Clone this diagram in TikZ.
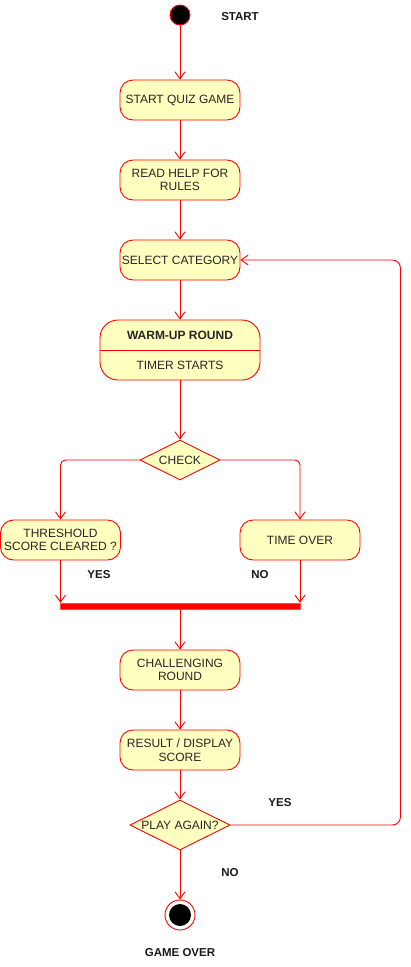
\documentclass[tikz,border=0pt]{standalone}
\usepackage{fontspec}
\setmainfont{Liberation Sans}
\usetikzlibrary{arrows.meta,shapes.geometric,calc}
\definecolor{actfill}{HTML}{FFFFC0}
\definecolor{actline}{HTML}{FF0000}
\begin{document}
\begin{tikzpicture}[x=1pt,y=-1pt,
  font=\fontsize{12}{13.5}\selectfont,
  act/.style={draw=actline,fill=actfill,rounded corners=13pt,line width=0.9pt,
    minimum width=120pt,minimum height=40pt,inner sep=1pt,align=center,text=black!85},
  dec/.style={draw=actline,fill=actfill,diamond,aspect=2,line width=0.9pt,inner sep=0pt,
    text=black!85},
  flow/.style={draw=actline,line width=0.9pt,-{Straight Barb[length=7pt,width=10pt,line width=0.9pt]}},
  lbl/.style={font=\fontsize{11.5}{13}\selectfont\bfseries,text=black!90}]
\useasboundingbox (0,0) rectangle (411,967);
% start
\node[circle,fill=black,draw=actline,line width=0.9pt,minimum size=20pt,inner sep=0pt] (start) at (180,15) {};
\node[lbl] (startlbl) at (240,17) {START};
% activities
\node[act] (quiz) at (180,100) {START QUIZ GAME};
\node[act] (help) at (180,180) {READ HELP FOR\\RULES};
\node[act] (sel) at (180,260) {SELECT CATEGORY};
\node[act,minimum width=160pt,minimum height=60pt,rounded corners=18pt] (warm) at (180,350) {};
\draw[actline,line width=0.9pt] (warm.west) -- (warm.east);
\node[font=\fontsize{12}{13.5}\selectfont\bfseries,text=black!85] (warmt) at (180,335) {WARM-UP ROUND};
\node[text=black!85] (warmb) at (180,365) {TIMER STARTS};
\node[dec,minimum width=80pt,minimum height=40pt] (check) at (180,460) {CHECK};
\node[act] (thresh) at (60.5,540) {THRESHOLD\\SCORE CLEARED ?};
\node[act] (timeo) at (300,540) {TIME OVER};
\node[lbl] (yes1) at (99,575) {YES};
\node[lbl] (no1) at (260,575) {NO};
\node[draw=actline!70,fill=actline,minimum width=240pt,minimum height=6pt,inner sep=0pt] (bar) at (180,606) {};
\node[act] (chal) at (180,670) {CHALLENGING\\ROUND};
\node[act] (res) at (180,750) {RESULT / DISPLAY\\SCORE};
\node[dec,minimum width=100pt,minimum height=50pt] (play) at (180,825) {PLAY AGAIN?};
\node[lbl] (yes2) at (280,803) {YES};
\node[lbl] (no2) at (230,873) {NO};
\node[circle,draw=actline,line width=0.9pt,fill=white,minimum size=30pt,inner sep=0pt] (stop) at (180,915) {};
\node[circle,fill=black,minimum size=22pt,inner sep=0pt] (stopin) at (180,915) {};
\node[lbl] (overlbl) at (180,953) {GAME OVER};
% connectors
\draw[flow] (start) -- (quiz);
\draw[flow] (quiz) -- (help);
\draw[flow] (help) -- (sel);
\draw[flow] (sel) -- (warm);
\draw[flow] (warm) -- (check);
\draw[flow,rounded corners=5pt] (check.west) -| (thresh.north);
\draw[flow,rounded corners=5pt] (check.east) -| (timeo.north);
\draw[flow] (thresh.south) -- (thresh.south |- bar.north);
\draw[flow] (timeo.south) -- (timeo.south |- bar.north);
\draw[flow] (bar.south) -- (chal.north);
\draw[flow] (chal) -- (res);
\draw[flow] (res) -- (play.north);
\draw[flow] (play.south) -- (stop.north);
\draw[flow,rounded corners=8pt] (play.east) -| ($(sel.east)+(160,0)$) -- (sel.east);
\end{tikzpicture}
\end{document}
